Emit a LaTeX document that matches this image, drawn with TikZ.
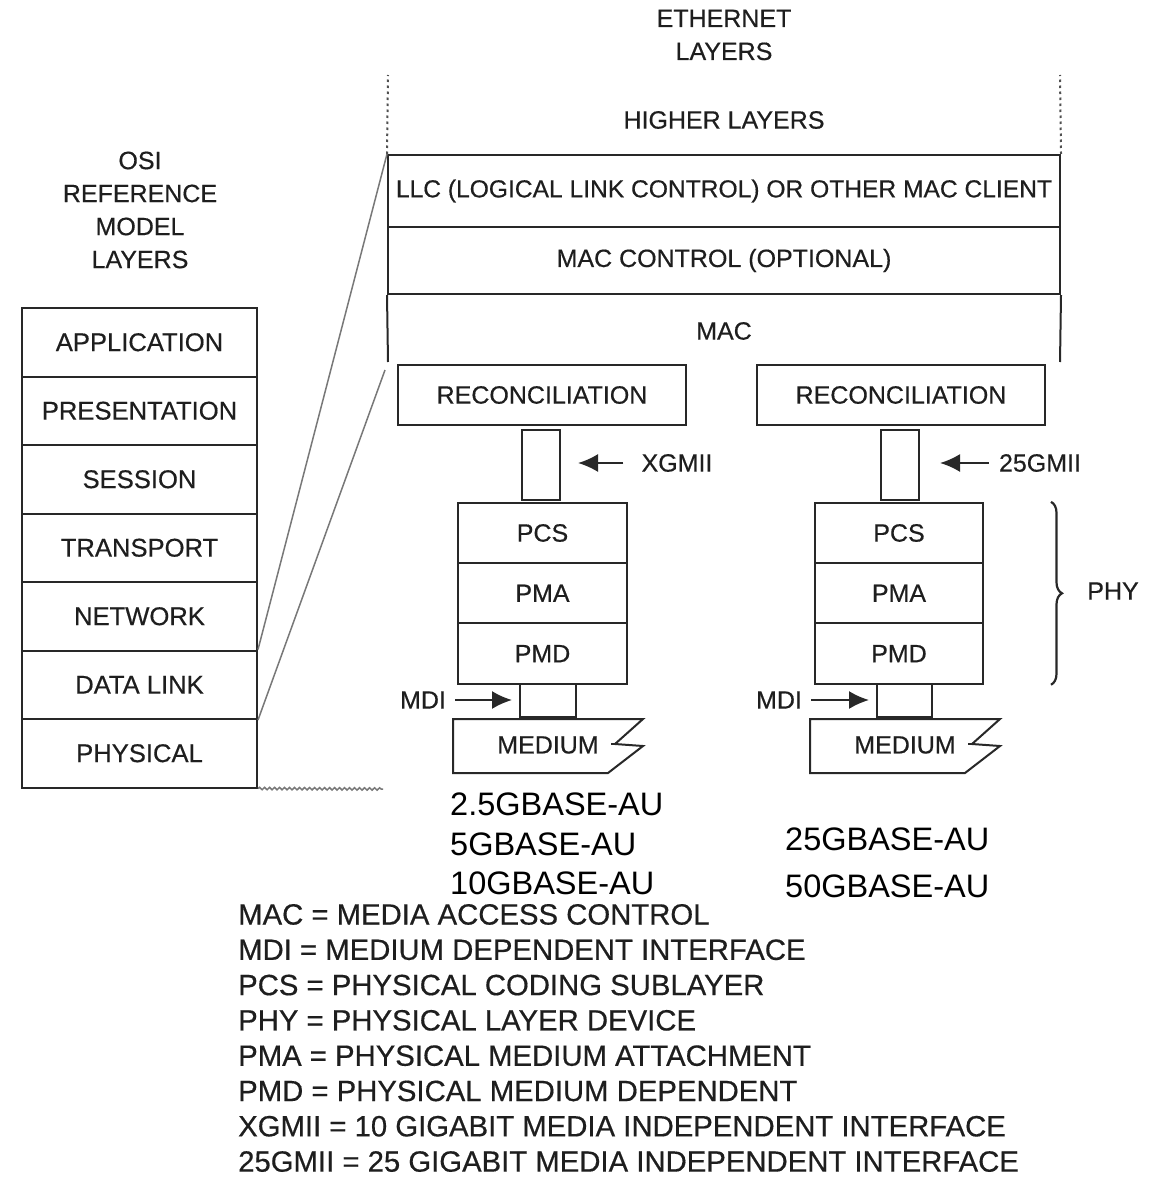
\documentclass[tikz,border=0pt]{standalone}
\usepackage{fontspec}
\setmainfont{Liberation Sans}
\newfontfamily\ethfont{Liberation Sans}[FakeBold=0.45]
\usetikzlibrary{arrows.meta,decorations.pathreplacing,decorations.pathmorphing}

\begin{document}
\begin{tikzpicture}[x=1pt,y=-1pt,
  layerbox/.style={shape=rectangle,draw=eth_line,line width=2pt,text=eth_text,font=\ethfont\fontsize{25}{30}\selectfont,inner sep=0pt},
  osibox/.style={layerbox,minimum width=235pt,minimum height=68.5pt,font=\ethfont\fontsize{25.6}{30}\selectfont},
  lbl/.style={text=eth_text,font=\ethfont\fontsize{25}{33}\selectfont,inner sep=0pt},
  baselbl/.style={text=black,font=\fontsize{32.5}{39.5}\selectfont,inner sep=0pt,align=left,anchor=west},
  legendlbl/.style={text=eth_text,font=\ethfont\fontsize{29.3}{35.3}\selectfont,inner sep=0pt,align=left,anchor=west},
  lyr/.style={draw=eth_line,line width=2pt},
  ptr/.style={draw=eth_line,line width=2pt,-{Latex[length=20pt,width=18pt]}},
  zoomline/.style={draw=eth_zoom,line width=1.5pt},
  dotline/.style={draw=eth_dots,line width=2pt,dash pattern=on 2.5pt off 3.5pt},
  brc/.style={draw=eth_line,line width=2.2pt,decorate,decoration={brace,amplitude=11pt}},
  wavy/.style={draw=eth_zoom,line width=1.5pt,decorate,decoration={snake,segment length=5pt,amplitude=1.2pt}}]
\definecolor{eth_line}{RGB}{40,40,40}
\definecolor{eth_text}{RGB}{30,30,30}
\definecolor{eth_zoom}{RGB}{120,120,120}
\definecolor{eth_dots}{RGB}{80,80,80}
\path[use as bounding box,fill=white] (0,0) rectangle (1166,1177);

% OSI reference model
\node[lbl,align=center] (osilbl) at (140,210) {OSI\\REFERENCE\\MODEL\\LAYERS};
\node[osibox] (app) at (139.5,342.25) {APPLICATION};
\node[osibox] (pres) at (139.5,410.75) {PRESENTATION};
\node[osibox] (sess) at (139.5,479.25) {SESSION};
\node[osibox] (trans) at (139.5,547.75) {TRANSPORT};
\node[osibox] (net) at (139.5,616.25) {NETWORK};
\node[osibox] (dl) at (139.5,684.75) {DATA LINK};
\node[osibox] (phys) at (139.5,753.25) {PHYSICAL};
\coordinate (cut) at (383,789);
\draw[wavy] (phys.south east) -- (cut);

% ethernet layers
\node[lbl,align=center] (ethlbl) at (724,35) {ETHERNET\\LAYERS};
\node[lbl] (higher) at (724,120) {HIGHER LAYERS};
\node[layerbox,minimum width=672pt,minimum height=72pt,font=\ethfont\fontsize{24.6}{30}\selectfont] (llc) at (724,191) {LLC (LOGICAL LINK CONTROL) OR OTHER MAC CLIENT};
\node[layerbox,minimum width=672pt,minimum height=67pt] (macctl) at (724,260.5) {MAC CONTROL (OPTIONAL)};
\node[lbl] (mac) at (724,331) {MAC};
\coordinate (macl) at (388,362);
\coordinate (macr) at (1060,362);
\draw[lyr] (macctl.south west) -- (macl);
\draw[lyr] (macctl.south east) -- (macr);
\coordinate (topl) at (388,75);
\coordinate (topr) at (1060,75);
\draw[dotline] (llc.north west) -- (topl);
\draw[dotline] (llc.north east) -- (topr);

\coordinate (zoomlo) at (385,370);
\draw[zoomline] (llc.north west) -- (dl.north east);
\draw[zoomline] (zoomlo) -- (dl.south east);

% left stack
\node[layerbox,minimum width=288pt,minimum height=60pt] (recl) at (542,395) {RECONCILIATION};
\node[layerbox,minimum width=38pt,minimum height=70pt] (xgmii) at (541,465) {};
\node[lbl] (xgmiilbl) at (677,463) {XGMII};
\draw[ptr,shorten <=18pt,shorten >=17pt] (xgmiilbl.west) -- (xgmii.east |- xgmiilbl.west);
\node[layerbox,minimum width=169pt,minimum height=60.3pt] (pcsl) at (542.5,533) {PCS};
\node[layerbox,minimum width=169pt,minimum height=60.3pt] (pmal) at (542.5,593.3) {PMA};
\node[layerbox,minimum width=169pt,minimum height=60.3pt] (pmdl) at (542.5,653.6) {PMD};
\node[layerbox,minimum width=56pt,minimum height=33pt] (mdibl) at (548,700.5) {};
\node[lbl] (mdil) at (423,700) {MDI};
\draw[ptr,shorten <=9pt,shorten >=7pt] (mdil.east) -- (mdibl.west |- mdil.east);
\node[lbl] (medl) at (548,745) {MEDIUM};
\draw[lyr,line join=miter] (453,719) -- (643,719) -- (615,744) -- (643,746) -- (608,773) -- (453,773) -- cycle;
\draw[lyr] (611,744) -- (615,744);

% right stack
\node[layerbox,minimum width=288pt,minimum height=60pt] (recr) at (901,395) {RECONCILIATION};
\node[layerbox,minimum width=38pt,minimum height=70pt] (gmii) at (900,465) {};
\node[lbl] (gmiilbl) at (1040,463) {25GMII};
\draw[ptr,shorten <=10pt,shorten >=20pt] (gmiilbl.west) -- (gmii.east |- gmiilbl.west);
\node[layerbox,minimum width=168pt,minimum height=60.3pt] (pcsr) at (899,533) {PCS};
\node[layerbox,minimum width=168pt,minimum height=60.3pt] (pmar) at (899,593.3) {PMA};
\node[layerbox,minimum width=168pt,minimum height=60.3pt] (pmdr) at (899,653.6) {PMD};
\node[layerbox,minimum width=55pt,minimum height=33pt] (mdibr) at (904.5,700.5) {};
\node[lbl] (mdir) at (779,700) {MDI};
\draw[ptr,shorten <=9pt,shorten >=7pt] (mdir.east) -- (mdibr.west |- mdir.east);
\node[lbl] (medr) at (905,745) {MEDIUM};
\draw[lyr,line join=miter] (810,719) -- (1000,719) -- (972,744) -- (1000,746) -- (965,773) -- (810,773) -- cycle;
\draw[lyr] (968,744) -- (972,744);

\draw[brc] ([xshift=67pt]pcsr.north east) -- ([xshift=67pt]pmdr.south east);
\node[lbl] (phy) at (1113,591) {PHY};

% port types
\node[baselbl] (basel) at (450,844) {2.5GBASE-AU\\5GBASE-AU\\10GBASE-AU};
\node[baselbl,font=\fontsize{32.5}{47}\selectfont] (baser) at (785,862.5) {25GBASE-AU\\50GBASE-AU};

% legend
\node[legendlbl] (legend) at (238,1038) {MAC = MEDIA ACCESS CONTROL\\
MDI = MEDIUM DEPENDENT INTERFACE\\
PCS = PHYSICAL CODING SUBLAYER\\
PHY = PHYSICAL LAYER DEVICE\\
PMA = PHYSICAL MEDIUM ATTACHMENT\\
PMD = PHYSICAL MEDIUM DEPENDENT\\
XGMII = 10 GIGABIT MEDIA INDEPENDENT INTERFACE\\
25GMII = 25 GIGABIT MEDIA INDEPENDENT INTERFACE};
\end{tikzpicture}
\end{document}
